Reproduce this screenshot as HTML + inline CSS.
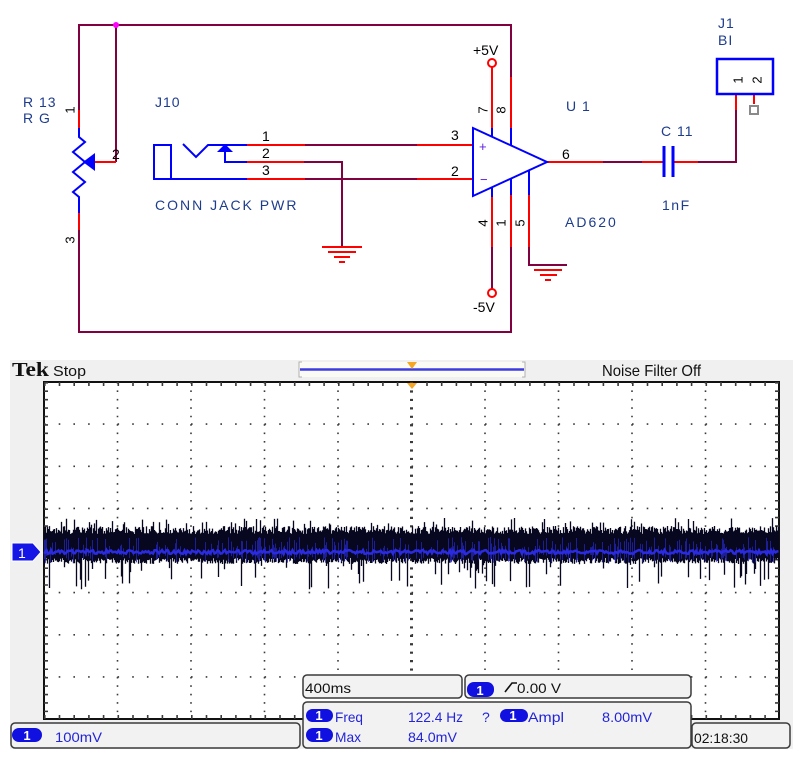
<!DOCTYPE html>
<html><head><meta charset="utf-8">
<style>html,body{margin:0;padding:0;background:#fff;}svg{display:block}</style>
</head>
<body>
<svg width="802" height="761" viewBox="0 0 802 761" xmlns="http://www.w3.org/2000/svg" font-family="'Liberation Sans', Arial, sans-serif">
<rect x="0" y="0" width="802" height="761" fill="#fff"/>

<!-- ================= SCHEMATIC ================= -->
<g fill="none" stroke-width="2" stroke-linecap="butt" stroke-linejoin="miter">
  <path stroke="#800040" d="M79 25H511 M79 24V110 M79 230V332H512 M511 24V77 M511 247V332 M116 25V162 M305 145H417 M305 179H417 M304 162H342V247 M492 247V289 M529 247V265H567 M603 162H642 M698 162H736V110"/>
  <path stroke="#ff0000" d="M79 110V128 M79 213V230 M95 162H116 M247 145H305 M247 162H304 M247 179H305 M417 145H473 M417 179H473 M492 67V128 M511 77V128 M492 197V247 M511 195V247 M529 195V247 M547 162H603 M642 162H664 M673 162H698 M736 110V94 M754 94V104"/>
  <path stroke="#ff0000" d="M322 247H362 M328 252H356 M334 257H350 M339 262H345 M534 270H562 M540 275H557 M545 280H551"/>
  <polyline stroke="#0000ff" points="79,128 79,137 85,142 73,152 85,162 73,172 85,182 73,192 79,197 79,213"/>
  <rect x="154" y="145" width="17" height="34" stroke="#0000ff"/>
  <path stroke="#0000ff" d="M154 179H247 M183 144L196 157L208 145H247 M225 152V162H247"/>
  <polygon points="473,128 547,162 473,196" stroke="#0000ff"/>
  <path stroke="#0000ff" d="M492 128V137 M511 128V145 M492 187V197 M511 178V195 M529 170V195"/>
  <path stroke="#0000ff" stroke-width="3" d="M664 146V177 M673 146V177"/>
  <rect x="717" y="59" width="56" height="35" stroke="#0000ff" stroke-width="2.5"/>
  <rect x="750" y="106" width="8" height="8" stroke="#8a8a8a" stroke-width="2"/>
  <circle cx="492" cy="63" r="4" stroke="#ff0000" fill="#fff"/>
  <circle cx="492" cy="293" r="4" stroke="#ff0000" fill="#fff"/>
</g>
<polygon points="83,162 95,153 95,171" fill="#0000ff"/>
<polygon points="217,152 233,152 225,144" fill="#0000ff"/>
<circle cx="116" cy="25" r="3" fill="#ff00ff"/>

<g fill="#1e3c8c" font-size="14">
  <text x="23" y="107" letter-spacing="1">R 13</text>
  <text x="23" y="123" letter-spacing="1">R G</text>
  <text x="155" y="107" letter-spacing="1">J10</text>
  <text x="155" y="210" letter-spacing="2">CONN JACK PWR</text>
  <text x="566" y="111" letter-spacing="1">U 1</text>
  <text x="565" y="227" letter-spacing="2">AD620</text>
  <text x="661" y="136" letter-spacing="1">C 11</text>
  <text x="662" y="210" letter-spacing="1.5">1nF</text>
  <text x="718" y="28" letter-spacing="1">J1</text>
  <text x="718" y="45" letter-spacing="1">BI</text>
</g>
<g fill="#000" font-size="14">
  <text x="473" y="55">+5V</text>
  <text x="473" y="312">-5V</text>
  <text x="262" y="141">1</text>
  <text x="262" y="158">2</text>
  <text x="262" y="175">3</text>
  <text x="451" y="140">3</text>
  <text x="451" y="176">2</text>
  <text x="562" y="159">6</text>
  <text x="112" y="159">2</text>
</g>
<g fill="#000" font-size="13" text-anchor="middle" dominant-baseline="central">
  <text transform="translate(70,110) rotate(-90)">1</text>
  <text transform="translate(70,240) rotate(-90)">3</text>
  <text transform="translate(483,110) rotate(-90)">7</text>
  <text transform="translate(501,110) rotate(-90)">8</text>
  <text transform="translate(483,223) rotate(-90)">4</text>
  <text transform="translate(501,223) rotate(-90)">1</text>
  <text transform="translate(520,223) rotate(-90)">5</text>
  <text transform="translate(738,80) rotate(-90)">1</text>
  <text transform="translate(757,80) rotate(-90)">2</text>
</g>
<g fill="#5a1ee0" font-size="13">
  <text x="479" y="151">+</text>
  <text x="480" y="184">−</text>
</g>

<!-- ================= SCOPE ================= -->
<rect x="10" y="360" width="783" height="389" fill="#f0f0f0"/>

<text x="12" y="376" font-family="'Liberation Serif', serif" font-weight="bold" font-size="20" textLength="37" lengthAdjust="spacingAndGlyphs" fill="#111">Tek</text>
<text x="53" y="376" font-size="15" textLength="33" lengthAdjust="spacingAndGlyphs" fill="#111">Stop</text>
<text x="602" y="376" font-size="16" textLength="99" lengthAdjust="spacingAndGlyphs" fill="#111">Noise Filter Off</text>

<rect x="299" y="362" width="226" height="15" fill="#fbfbf6"/>
<path d="M302 362H299V377H302 M522 362H525V377H522" stroke="#b0b0b0" stroke-width="1" fill="none"/>
<path d="M300 369.5H524" stroke="#3c3ce0" stroke-width="2.5"/>
<polygon points="407,362 417,362 412,369" fill="#f5a623"/>

<rect x="44" y="382" width="735" height="337" fill="#fff" stroke="#111" stroke-width="2"/>
<g stroke="#3a3a3a" stroke-width="1.6">
  <line x1="44" x2="779" y1="424.1" y2="424.1" stroke-dasharray="1.6 13.1"/>
  <line x1="44" x2="779" y1="466.3" y2="466.3" stroke-dasharray="1.6 13.1"/>
  <line x1="44" x2="779" y1="508.4" y2="508.4" stroke-dasharray="1.6 13.1"/>
  <line x1="44" x2="779" y1="592.6" y2="592.6" stroke-dasharray="1.6 13.1"/>
  <line x1="44" x2="779" y1="634.8" y2="634.8" stroke-dasharray="1.6 13.1"/>
  <line x1="44" x2="779" y1="676.9" y2="676.9" stroke-dasharray="1.6 13.1"/>
  <line y1="382" y2="719" x1="117.5" x2="117.5" stroke-dasharray="1.6 6.825"/>
  <line y1="382" y2="719" x1="191" x2="191" stroke-dasharray="1.6 6.825"/>
  <line y1="382" y2="719" x1="264.5" x2="264.5" stroke-dasharray="1.6 6.825"/>
  <line y1="382" y2="719" x1="338" x2="338" stroke-dasharray="1.6 6.825"/>
  <line y1="382" y2="719" x1="485" x2="485" stroke-dasharray="1.6 6.825"/>
  <line y1="382" y2="719" x1="558.5" x2="558.5" stroke-dasharray="1.6 6.825"/>
  <line y1="382" y2="719" x1="632" x2="632" stroke-dasharray="1.6 6.825"/>
  <line y1="382" y2="719" x1="705.5" x2="705.5" stroke-dasharray="1.6 6.825"/>
  <line x1="44" x2="779" y1="550.5" y2="550.5" stroke-width="2.4" stroke-dasharray="2.4 12.3"/>
  <line y1="382" y2="719" x1="411.5" x2="411.5" stroke-width="3" stroke-dasharray="2.2 6.225"/>
  <line x1="44" x2="779" y1="384" y2="384" stroke-width="4" stroke-dasharray="1.6 13.1"/>
  <line x1="44" x2="779" y1="717" y2="717" stroke-width="4" stroke-dasharray="1.6 13.1"/>
  <line y1="382" y2="719" x1="46" x2="46" stroke-width="4" stroke-dasharray="1.6 6.825"/>
  <line y1="382" y2="719" x1="777" x2="777" stroke-width="4" stroke-dasharray="1.6 6.825"/>
</g>
<polygon points="407,383 417,383 412,389" fill="#f5a623"/>

<rect x="44" y="534" width="735" height="23" fill="#07071f"/>
<g id="wave"></g>
<path id="wblue" d="M44 552H779" stroke="#2a2ae0" stroke-width="2.5" fill="none"/>

<polygon points="12,543 33,543 41,552 33,561 12,561" fill="#1515e6" stroke="#fff" stroke-width="1"/>
<text x="18" y="558" font-size="14" fill="#fff">1</text>

<g fill="#f2f2f2" stroke="#3a3a3a" stroke-width="1.5">
  <rect x="11" y="723" width="289" height="25" rx="4"/>
  <rect x="303" y="675" width="159" height="23" rx="4"/>
  <rect x="465" y="675" width="226" height="23" rx="4"/>
  <rect x="303" y="702" width="388" height="46" rx="4"/>
  <rect x="692" y="723" width="98" height="25" rx="4"/>
</g>
<g fill="#1010e0">
  <rect x="12" y="728" width="30" height="14" rx="7"/>
  <rect x="467" y="682" width="27" height="15" rx="7"/>
  <rect x="306" y="709" width="27" height="13" rx="6.5"/>
  <rect x="306" y="728" width="27" height="14" rx="7"/>
  <rect x="500" y="709" width="28" height="13" rx="6.5"/>
</g>
<g fill="#fff" font-size="13" font-weight="bold" text-anchor="middle">
  <text x="27" y="740">1</text>
  <text x="480" y="695">1</text>
  <text x="319" y="720">1</text>
  <text x="319" y="740">1</text>
  <text x="513" y="720">1</text>
</g>
<g font-size="14">
  <text x="55" y="742" fill="#2323d8" textLength="47" lengthAdjust="spacingAndGlyphs">100mV</text>
  <text x="305" y="693" fill="#111" textLength="46" lengthAdjust="spacingAndGlyphs">400ms</text>
  <text x="517" y="693" fill="#111" textLength="44" lengthAdjust="spacingAndGlyphs">0.00 V</text>
  <text x="335" y="722" fill="#2323d8" textLength="28" lengthAdjust="spacingAndGlyphs">Freq</text>
  <text x="408" y="722" fill="#2323d8" textLength="55" lengthAdjust="spacingAndGlyphs">122.4 Hz</text>
  <text x="482" y="722" fill="#2323d8">?</text>
  <text x="528" y="722" fill="#2323d8" textLength="36" lengthAdjust="spacingAndGlyphs">Ampl</text>
  <text x="602" y="722" fill="#2323d8" textLength="50" lengthAdjust="spacingAndGlyphs">8.00mV</text>
  <text x="335" y="742" fill="#2323d8" textLength="26" lengthAdjust="spacingAndGlyphs">Max</text>
  <text x="408" y="742" fill="#2323d8" textLength="49" lengthAdjust="spacingAndGlyphs">84.0mV</text>
  <text x="694" y="743" fill="#111" textLength="54" lengthAdjust="spacingAndGlyphs">02:18:30</text>
</g>
<path d="M505 692L512 683H517" stroke="#111" stroke-width="1.6" fill="none"/>
</svg>
<script>
(function(){
  var s=12345;
  function r(){s=(s*16807)%2147483647;return (s-1)/2147483646;}
  var C=552,d='',b='',NS='http://www.w3.org/2000/svg';
  for(var x=44.5;x<779;x+=1){
    var t=C-(18+r()*8); if(r()<0.07) t=C-(27+r()*7);
    var bo=C+(6+r()*6); var p=0.12; if(x>470&&x<505)p=0.35;
    if(r()<p) bo=C+12+r()*26;
    d+='M'+x+' '+t.toFixed(1)+'V'+bo.toFixed(1);
    if(r()<0.3){var a=C-3-r()*12,bb=C+2+r()*9;b+='M'+x+' '+a.toFixed(1)+'V'+bb.toFixed(1);}
  }
  var g=document.getElementById('wave');
  var p1=document.createElementNS(NS,'path');
  p1.setAttribute('d',d);p1.setAttribute('stroke','#07071f');p1.setAttribute('stroke-width','1.3');
  g.appendChild(p1);
  var p2=document.createElementNS(NS,'path');
  p2.setAttribute('d',b);p2.setAttribute('stroke','#2424b0');p2.setAttribute('stroke-width','1');p2.setAttribute('opacity','0.8');
  g.appendChild(p2);
  var pts='M44 552';
  for(var x=45;x<=779;x+=1.5){pts+='L'+x+' '+(C+(r()-0.5)*4).toFixed(1);}
  document.getElementById('wblue').setAttribute('d',pts);
})();
</script>
</body>
</html>
